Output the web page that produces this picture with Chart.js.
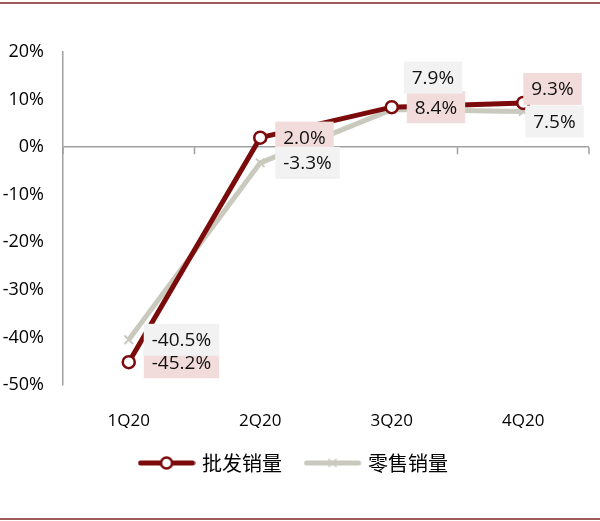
<!DOCTYPE html>
<html>
<head>
<meta charset="utf-8">
<script src="https://cdn.jsdelivr.net/npm/chart.js@4.4.1/dist/chart.umd.min.js"></script>
<style>
  html, body { margin: 0; padding: 0; background: #fff; }
  #wrap { position: relative; width: 600px; height: 521px; }
  #wrap:before, #wrap:after { content: ''; position: absolute; left: 0; right: 0; height: 2px; background: #a05a5a; }
  #wrap:before { top: 2px; }
  #wrap:after { top: 518px; }
</style>
</head>
<body>
<div id="wrap"><canvas id="chart" width="600" height="521"></canvas></div>
<script>
const quarters = ['1Q20', '2Q20', '3Q20', '4Q20'];
const wholesale = [-45.2, 2.0, 8.4, 9.3];   // 批发销量
const retail = [-40.5, -3.3, 7.9, 7.5];     // 零售销量
const yTicks = [-50, -40, -30, -20, -10, 0, 10, 20];

const RED = '#7b0a0a';
const GREY = '#c9c9be';
const FONT = '"Open Sans", "Liberation Sans", sans-serif';

// where each value label sits relative to its point: [dx to box left, dy to box centre]
const labelPos = [
  [[15, 0], [15, 0], [15, 0], [0, -14]],
  [[15, 0], [15, 0], [12, -32], [2, 10]]
];
const labelFill = ['#f2dcdb', '#f2f2f2'];

// little line+marker pictures for the legend
function legendIcon(color, marker) {
  const c = document.createElement('canvas');
  c.width = 58; c.height = 16;
  const g = c.getContext('2d');
  g.strokeStyle = color; g.lineWidth = 5; g.lineCap = 'round';
  g.beginPath(); g.moveTo(3, 8); g.lineTo(55, 8); g.stroke();
  if (marker === 'circle') {
    g.fillStyle = '#fff'; g.lineWidth = 2.5;
    g.beginPath(); g.arc(29, 8, 5.5, 0, Math.PI * 2); g.fill(); g.stroke();
  } else {
    g.lineWidth = 1.5; g.lineCap = 'butt';
    g.beginPath(); g.moveTo(25, 4); g.lineTo(33, 12); g.moveTo(33, 4); g.lineTo(25, 12); g.stroke();
  }
  return c;
}
const icons = [legendIcon(RED, 'circle'), legendIcon(GREY, 'cross')];

const zeroTicks = {
  id: 'zeroTicks',
  beforeDatasetsDraw(chart) {
    const x = chart.scales.x, y = chart.scales.y;
    const y0 = y.getPixelForValue(0);
    const half = (x.getPixelForValue(1) - x.getPixelForValue(0)) / 2;
    const ctx = chart.ctx;
    ctx.save();
    ctx.strokeStyle = '#a0a0a0';
    ctx.lineWidth = 1.5;
    ctx.beginPath();
    for (let i = 0; i <= quarters.length; i++) {
      const px = x.getPixelForValue(0) - half + i * half * 2;
      ctx.moveTo(px, y0);
      ctx.lineTo(px, y0 + 7);
    }
    ctx.stroke();
    ctx.restore();
  }
};

const valueLabels = {
  id: 'valueLabels',
  afterDatasetsDraw(chart) {
    const ctx = chart.ctx;
    ctx.save();
    ctx.font = '19px ' + FONT;
    ctx.textBaseline = 'middle';
    ctx.textAlign = 'left';
    [0, 1].forEach(d => {
      const meta = chart.getDatasetMeta(d);
      meta.data.forEach((pt, i) => {
        const txt = chart.data.datasets[d].data[i].toFixed(1) + '%';
        const w = ctx.measureText(txt).width + 16;
        const h = 32;
        const left = pt.x + labelPos[d][i][0];
        const cy = pt.y + labelPos[d][i][1];
        ctx.fillStyle = labelFill[d];
        ctx.fillRect(left, cy - h / 2, w, h);
        ctx.fillStyle = '#111';
        ctx.fillText(txt, left + 8, cy + 1);
      });
    });
    ctx.restore();
  }
};

new Chart(document.getElementById('chart'), {
  type: 'line',
  data: {
    labels: quarters,
    datasets: [
      {
        label: '批发销量',
        data: wholesale,
        borderColor: RED,
        borderWidth: 5,
        pointStyle: 'circle',
        pointRadius: 6,
        pointBorderWidth: 2.5,
        pointBackgroundColor: '#fff',
        pointBorderColor: RED,
        tension: 0
      },
      {
        label: '零售销量',
        data: retail,
        borderColor: GREY,
        borderWidth: 5,
        pointStyle: 'crossRot',
        pointRadius: 6,
        pointBorderWidth: 2,
        pointBorderColor: GREY,
        tension: 0
      }
    ]
  },
  options: {
    responsive: false,
    animation: false,
    layout: { padding: { top: 52, right: 11, bottom: 38, left: 0 } },
    scales: {
      x: {
        offset: true,
        grid: { display: false, offset: true },
        border: { display: false },
        ticks: { color: '#000', padding: 18, font: { family: FONT, size: 17 } },
        afterFit(scale) { scale.height = 43; }
      },
      y: {
        min: -50,
        max: 20,
        afterBuildTicks(scale) { scale.ticks = yTicks.map(v => ({ value: v })); },
        grid: {
          drawTicks: false,
          lineWidth: 1.5,
          color: ctx => ctx.tick && ctx.tick.value === 0 ? '#a0a0a0' : 'rgba(0,0,0,0)'
        },
        border: { color: '#a0a0a0', width: 1.5 },
        ticks: {
          color: '#000',
          padding: 19,
          font: { family: FONT, size: 18 },
          callback: v => v + '%'
        },
        afterFit(scale) { scale.width = 63; }
      }
    },
    plugins: {
      tooltip: { enabled: false },
      legend: {
        position: 'bottom',
        labels: {
          usePointStyle: true,
          pointStyleWidth: 51,
          padding: 25,
          color: '#000',
          font: { family: '"Noto Sans CJK SC", sans-serif', size: 20 },
          generateLabels: chart => chart.data.datasets.map((ds, i) => ({
            text: ds.label,
            pointStyle: icons[i],
            datasetIndex: i,
            fontColor: '#000',
            lineWidth: 0,
            strokeStyle: 'rgba(0,0,0,0)',
            fillStyle: 'rgba(0,0,0,0)'
          }))
        }
      }
    }
  },
  plugins: [zeroTicks, valueLabels]
});
</script>
</body>
</html>
